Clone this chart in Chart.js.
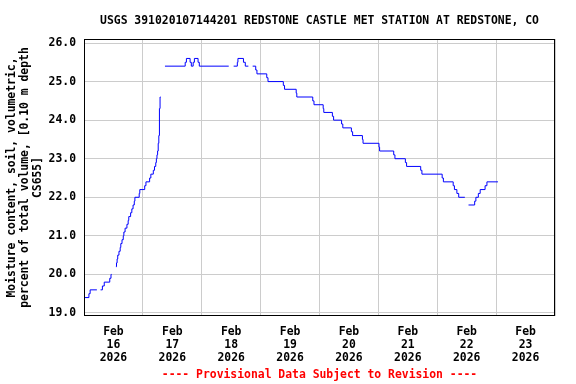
<!DOCTYPE html>
<html><head><meta charset="utf-8">
<script src="https://cdn.jsdelivr.net/npm/chart.js@4"></script>
<style>html,body{margin:0;padding:0;background:#fff}</style>
</head><body>
<canvas id="c" width="576" height="384"></canvas>
<script>
const titleText = "USGS 391020107144201 REDSTONE CASTLE MET STATION AT REDSTONE, CO";
const yAxisTitle = ["Moisture content, soil, volumetric,", "percent of total volume, [0.10 m depth", "CS655]"];
const footerText = "---- Provisional Data Subject to Revision ----";
const monthLabel = "Feb";
const yearLabel = "2026";
const dayLabels = ["16", "17", "18", "19", "20", "21", "22", "23"];
const yTicks = [19, 20, 21, 22, 23, 24, 25, 26];

// hours since Feb 16 00:00 (value changes; null = data gap)
const hours = [
  0.0, 2.0, 2.5, 5.25, 6.0,
  6.75, 7.5, 8.25, 10.5, 11.0, 11.25, 12.0,
  13.0, 13.25, 13.5, 13.75, 14.25, 14.75, 15.0, 15.5, 16.0, 16.25, 16.75, 17.5, 18.0, 18.25,
  19.0, 19.5, 20.0, 20.5, 20.75, 22.5, 22.75, 24.75, 25.25, 26.75, 27.25, 28.25, 28.75, 29.25,
  29.5, 29.75, 30.0, 30.25, 30.5, 30.75, 31.0, 31.25, 32.0,
  33.0, 41.25, 41.75, 43.25, 43.75, 44.5, 45.0, 46.5, 47.0, 59.0, 60.0,
  61.0, 62.5, 62.75, 65.0, 65.75, 67.0, 68.0,
  68.75, 70.0, 70.5, 74.5, 75.0, 81.25, 81.75, 86.5, 86.75, 93.25, 93.75, 97.5, 97.75,
  101.25, 101.75, 105.0, 105.5, 109.0, 109.5, 113.5, 113.75, 120.25, 120.5, 126.25, 126.75,
  131.0, 131.5, 137.25, 137.75, 146.0, 146.5, 150.5, 151.0, 152.0, 152.75, 155.25, 156.0,
  156.75, 159.25, 159.75, 160.75, 161.5, 163.5, 164.25, 168.75
];
const moisture = [
  19.4, 19.5, 19.6, 19.6, null,
  19.6, 19.7, 19.8, 19.9, 20.0, 20.0, null,
  20.2, 20.3, 20.4, 20.5, 20.6, 20.7, 20.8, 20.9, 21.0, 21.1, 21.2, 21.3, 21.4, 21.5,
  21.6, 21.7, 21.8, 21.9, 22.0, 22.1, 22.2, 22.3, 22.4, 22.5, 22.6, 22.7, 22.8, 22.9,
  23.0, 23.1, 23.2, 23.4, 23.6, 24.3, 24.6, 24.6, null,
  25.4, 25.5, 25.6, 25.5, 25.4, 25.5, 25.6, 25.5, 25.4, 25.4, null,
  25.4, 25.5, 25.6, 25.5, 25.4, 25.4, null,
  25.4, 25.3, 25.2, 25.1, 25.0, 24.9, 24.8, 24.7, 24.6, 24.5, 24.4, 24.3, 24.2,
  24.1, 24.0, 23.9, 23.8, 23.7, 23.6, 23.5, 23.4, 23.3, 23.2, 23.1, 23.0,
  22.9, 22.8, 22.7, 22.6, 22.5, 22.4, 22.3, 22.2, 22.1, 22.0, 22.0, null,
  21.8, 21.9, 22.0, 22.1, 22.2, 22.3, 22.4, 22.4
];

const FONT = "'DejaVu Sans Mono', 'Liberation Mono', monospace";
const fs = 11.4;

const points = hours.map((h, i) => ({ x: h, y: moisture[i] }));

const framePlugin = {
  id: 'frame',
  afterDraw(chart) {
    const { ctx, chartArea: a } = chart;
    ctx.save();
    ctx.strokeStyle = '#000';
    ctx.lineWidth = 1;
    ctx.strokeRect(a.left + 0.5, a.top + 0.5, a.right - a.left - 1, a.bottom - a.top - 1);
    ctx.restore();
  }
};

new Chart(document.getElementById('c'), {
  type: 'line',
  data: {
    datasets: [{
      data: points,
      borderColor: '#0000ff',
      borderWidth: 1,
      pointRadius: 0,
      stepped: true,
      spanGaps: false,
      tension: 0
    }]
  },
  options: {
    responsive: false,
    animation: false,
    devicePixelRatio: 1,
    layout: { padding: { left: 0, right: 21, top: 0, bottom: 0 } },
    plugins: {
      legend: { display: false },
      tooltip: { enabled: false },
      title: {
        display: true, text: titleText, color: '#000', fullSize: false,
        font: { family: FONT, size: fs, weight: 'bold', lineHeight: 1.2 },
        padding: { top: 13.8, bottom: 11.52 }
      },
      subtitle: {
        display: true, text: footerText, color: '#ff0000', position: 'bottom', fullSize: false,
        font: { family: FONT, size: fs, weight: 'bold', lineHeight: 1.2 },
        padding: { top: 0, bottom: 1.7 }
      }
    },
    scales: {
      x: {
        type: 'linear', min: 0, max: 192,
        afterBuildTicks(scale) {
          const t = [];
          for (let h = 0; h <= 192; h += 12) t.push({ value: h });
          scale.ticks = t;
        },
        afterFit(scale) { scale.height = 52.62; },
        grid: {
          drawTicks: false,
          color: (ctx) => (ctx.tick && ctx.tick.value % 24 === 0) ? '#cccccc' : 'rgba(0,0,0,0)'
        },
        border: { display: false },
        ticks: {
          autoSkip: false, maxRotation: 0, color: '#000', padding: 9.5,
          font: { family: FONT, size: fs, weight: 'bold', lineHeight: 1.14 },
          callback: (v) => {
            if (v % 24 !== 12) return '';
            const d = dayLabels[(v - 12) / 24];
            return d ? [monthLabel, d, yearLabel] : '';
          }
        }
      },
      y: {
        type: 'linear', min: 18.922, max: 26.104,
        afterBuildTicks(scale) { scale.ticks = yTicks.map(v => ({ value: v })); },
        afterFit(scale) { scale.width = 84; },
        grid: { drawTicks: false, color: '#cccccc' },
        border: { display: false },
        ticks: {
          color: '#000', padding: 8,
          font: { family: FONT, size: fs, weight: 'bold' },
          callback: (v) => Number(v).toFixed(1)
        },
        title: {
          display: true, text: yAxisTitle, color: '#000',
          font: { family: FONT, size: fs, weight: 'bold', lineHeight: 1.14 },
          padding: { top: 5.5, bottom: 0 }
        }
      }
    }
  },
  plugins: [framePlugin]
});
</script>
</body></html>
